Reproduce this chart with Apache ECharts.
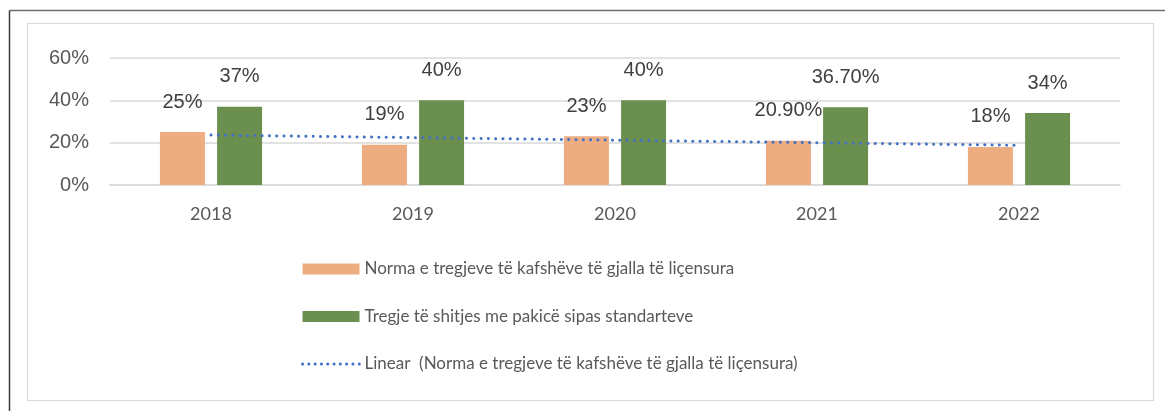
<!DOCTYPE html>
<html>
<head>
<meta charset="utf-8">
<script src="https://cdn.jsdelivr.net/npm/echarts@6/dist/echarts.min.js"></script>
<style>
  html, body { margin: 0; padding: 0; background: #ffffff; }
  #chart { width: 1165px; height: 411px; }
</style>
</head>
<body>
<div id="chart"></div>
<script>
// Years on the category axis
const years = ['2018', '2019', '2020', '2021', '2022'];

// Share of licensed live-animal markets (%)
const licensedMarkets = [25, 19, 23, 20.9, 18];
const licensedLabels = ['25%', '19%', '23%', '20.90%', '18%'];

// Retail markets meeting the standards (%)
const retailMarkets = [37, 40, 40, 36.7, 34];
const retailLabels = ['37%', '40%', '40%', '36.70%', '34%'];

// Y axis ticks (%)
const yTicks = [0, 20, 40, 60];

const seriesNames = [
  'Norma e tregjeve të kafshëve të gjalla të liçensura',
  'Tregje të shitjes me pakicë sipas standarteve',
  'Linear  (Norma e tregjeve të kafshëve të gjalla të liçensura)'
];

// Least-squares linear trend of the licensed-market series
function linearTrend(values) {
  const n = values.length;
  let sx = 0, sy = 0, sxy = 0, sxx = 0;
  values.forEach((v, i) => { const x = i + 1; sx += x; sy += v; sxy += x * v; sxx += x * x; });
  const slope = (n * sxy - sx * sy) / (n * sxx - sx * sx);
  const icpt = (sy - slope * sx) / n;
  return values.map((_, i) => +(icpt + slope * (i + 1)).toFixed(3));
}
const licensedTrend = linearTrend(licensedMarkets);

const chart = echarts.init(document.getElementById('chart'), null, { renderer: 'canvas' });

const labelFont = { fontFamily: '"Liberation Sans", Arial, sans-serif', fontSize: 20, color: '#404040' };
const bodyFont = '"Lato", "Open Sans", sans-serif';
const trendStyle = { color: '#4472C4', width: 3, type: [0.1, 7.2], cap: 'round' };

chart.setOption({
  animation: false,
  backgroundColor: '#ffffff',
  graphic: [
    // outer frame (top and left edges)
    { type: 'line', shape: { x1: 9.5, y1: 10.5, x2: 1165, y2: 10.5 }, style: { stroke: '#6e6e6e', lineWidth: 1.5 } },
    { type: 'line', shape: { x1: 9.5, y1: 10.5, x2: 9.5, y2: 411 }, style: { stroke: '#3a3a3a', lineWidth: 1.5 } },
    // chart area border
    { type: 'rect', shape: { x: 27.5, y: 23.5, width: 1126, height: 377 }, style: { fill: 'none', stroke: '#d9d9d9', lineWidth: 1.2 } }
  ],
  grid: { left: 110, right: 45, top: 58, bottom: 226, containLabel: false },
  legend: {
    orient: 'vertical',
    left: 301,
    top: 258,
    padding: 0,
    itemWidth: 57,
    itemHeight: 11,
    itemGap: 25.5,
    textStyle: { fontFamily: bodyFont, fontSize: 17, color: '#595959', lineHeight: 22 },
    data: [
      { name: seriesNames[0], icon: 'rect' },
      { name: seriesNames[1], icon: 'rect' },
      { name: seriesNames[2], itemStyle: { opacity: 0 }, lineStyle: { width: 3, type: [0.1, 6.2], cap: 'round' } }
    ]
  },
  xAxis: {
    type: 'category',
    data: years,
    axisLine: { show: true, lineStyle: { color: '#d9d9d9', width: 1.5 } },
    axisTick: { show: false },
    axisLabel: { margin: 20, fontFamily: bodyFont, fontSize: 18, color: '#595959' }
  },
  yAxis: {
    type: 'value',
    min: yTicks[0],
    max: yTicks[yTicks.length - 1],
    interval: yTicks[1] - yTicks[0],
    axisLine: { show: false },
    axisTick: { show: false },
    splitLine: { lineStyle: { color: '#d9d9d9', width: 1.5 } },
    axisLabel: { margin: 21, formatter: '{value}%', fontFamily: '"Liberation Sans", Arial, sans-serif', fontSize: 20, color: '#595959' }
  },
  series: [
    {
      name: seriesNames[0],
      type: 'bar',
      data: licensedMarkets,
      barWidth: 45,
      barGap: '27%',
      itemStyle: { color: '#EEAD80' },
      label: {
        show: true, position: 'top', distance: 20, ...labelFont,
        formatter: p => licensedLabels[p.dataIndex]
      },
      z: 2
    },
    {
      name: seriesNames[1],
      type: 'bar',
      data: retailMarkets,
      barWidth: 45,
      itemStyle: { color: '#6A8F4E' },
      label: {
        show: true, position: 'top', distance: 20, ...labelFont,
        formatter: p => retailLabels[p.dataIndex]
      },
      z: 2
    },
    {
      name: seriesNames[2],
      type: 'line',
      data: licensedTrend,
      symbol: 'none',
      showSymbol: false,
      itemStyle: { color: '#4472C4' },
      lineStyle: trendStyle,
      z: 5
    }
  ]
});
</script>
</body>
</html>
